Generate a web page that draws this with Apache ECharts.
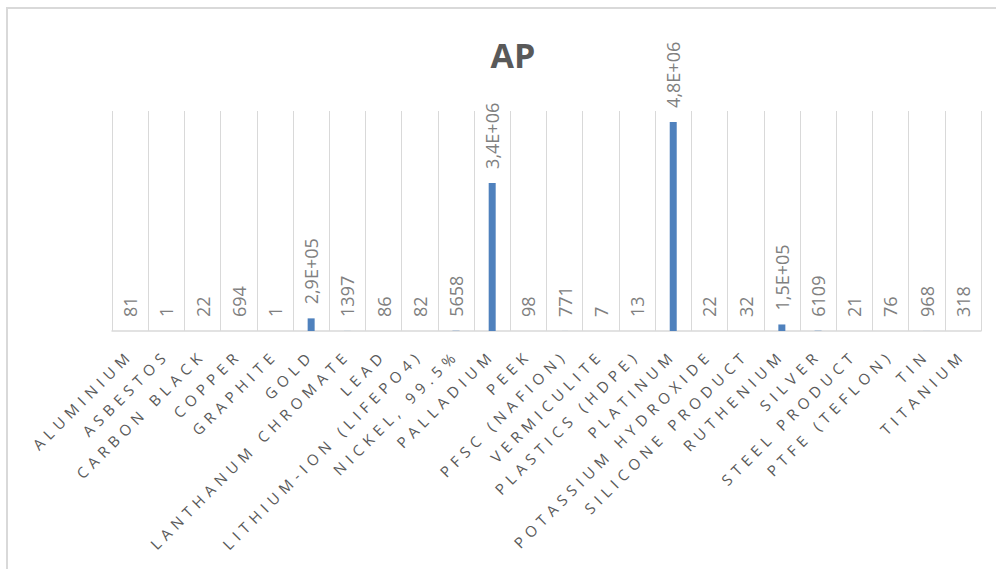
<!DOCTYPE html>
<html>
<head>
<meta charset="utf-8">
<script src="https://cdn.jsdelivr.net/npm/echarts@6/dist/echarts.min.js"></script>
<style>
html,body{margin:0;padding:0;background:#fff;}
#c{width:996px;height:569px;}
#c svg text[style*="Lato"]{letter-spacing:5.4px;}
</style>
</head>
<body>
<div id="c"></div>
<script>
const categories = ["ALUMINIUM","ASBESTOS","CARBON BLACK","COPPER","GRAPHITE","GOLD","LANTHANUM CHROMATE","LEAD","LITHIUM-ION (LIFEPO4)","NICKEL, 99.5%","PALLADIUM","PEEK","PFSC (NAFION)","VERMICULITE","PLASTICS (HDPE)","PLATINUM","POTASSIUM HYDROXIDE","SILICONE PRODUCT","RUTHENIUM","SILVER","STEEL PRODUCT","PTFE (TEFLON)","TIN","TITANIUM"];
const apValues = [81,1,22,694,1,290000,1397,86,82,5658,3400000,98,771,7,13,4800000,22,32,150000,6109,21,76,968,318];
const chartTitle = "AP";

function fmt(v){
  if (v >= 100000){
    const e = Math.floor(Math.log10(v));
    const m = (v/Math.pow(10,e)).toFixed(1).replace('.',',');
    return m + 'E+' + (e<10?'0':'') + e;
  }
  return String(v);
}

const chart = echarts.init(document.getElementById('c'), null, {renderer:'svg'});
chart.setOption({
  animation:false,
  backgroundColor:'#ffffff',
  graphic:[{type:'rect',shape:{x:7,y:8,width:1010,height:580},style:{fill:'none',stroke:'#d9d9d9',lineWidth:2},z:-1}],
  title:{text:chartTitle,left:508,textAlign:'center',top:33,
    textStyle:{fontFamily:'Open Sans',fontWeight:'bold',fontSize:34,color:'#595959'}},
  grid:{left:112,right:15,top:111,bottom:238,containLabel:false},
  xAxis:{type:'category',data:categories,
    axisLine:{lineStyle:{color:'#d9d9d9',width:1.5}},
    axisTick:{show:false},
    splitLine:{show:true,lineStyle:{color:'#d9d9d9',width:1}},
    axisLabel:{interval:0,rotate:45,margin:21,color:'#595959',fontSize:15,fontFamily:'Open Sans, Lato'}},
  yAxis:{type:'value',min:0,max:5050000,show:false,splitLine:{show:false}},
  series:[{type:'bar',data:apValues,barWidth:7,itemStyle:{color:'#4f81bd'},
    label:{show:true,position:'top',distance:14,rotate:90,align:'left',verticalAlign:'middle',
      color:'#808080',fontSize:18,fontFamily:'Open Sans',formatter:p=>fmt(p.value)}}]
});
</script>
</body>
</html>
